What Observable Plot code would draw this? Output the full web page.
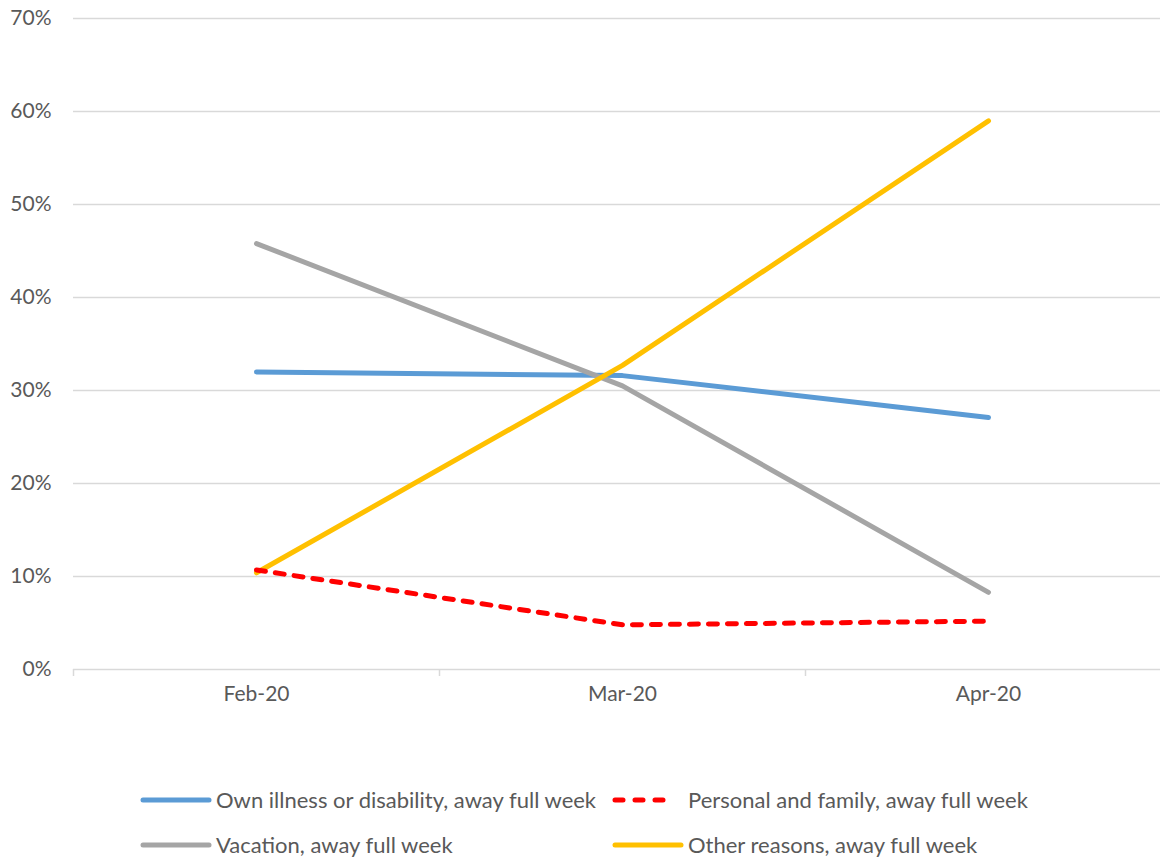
<!DOCTYPE html>
<html>
<head>
<meta charset="utf-8">
<script src="https://cdn.jsdelivr.net/npm/d3@7"></script>
<script src="https://cdn.jsdelivr.net/npm/@observablehq/plot@0.6"></script>
<style>
  body { margin: 0; background: #fff; font-family: Lato, "Open Sans", sans-serif; }
  #wrap { position: relative; width: 1160px; height: 857px; overflow: hidden; }
  #legend { position: absolute; left: 140px; top: 786px; width: 1000px; font-size: 22px; color: #595959; }
  .item { position: absolute; display: flex; align-items: center; white-space: nowrap; }
  .item svg { margin-right: 4px; }
</style>
</head>
<body>
<div id="wrap">
  <div id="chart"></div>
  <div id="legend"></div>
</div>
<script>
const months = ["Feb-20", "Mar-20", "Apr-20"];
const seriesNames = [
  "Own illness or disability, away full week",
  "Personal and family, away full week",
  "Vacation, away full week",
  "Other reasons, away full week"
];
const ownIllness = [0.320, 0.316, 0.271];
const personalFamily = [0.107, 0.048, 0.052];
const vacation = [0.458, 0.305, 0.083];
const otherReasons = [0.104, 0.327, 0.590];
const yTicks = [0, 0.1, 0.2, 0.3, 0.4, 0.5, 0.6, 0.7];
const colors = ["#5B9BD5", "#FF0000", "#A5A5A5", "#FFC000"];

const allValues = [ownIllness, personalFamily, vacation, otherReasons];
const rows = [];
allValues.forEach((vals, s) => vals.forEach((v, i) => rows.push({series: seriesNames[s], i, value: v})));

const lineFor = (name, extra = {}) => Plot.line(rows.filter(d => d.series === name), {
  x: "i", y: "value", stroke: colors[seriesNames.indexOf(name)], strokeWidth: 5, ...extra
});

const chart = Plot.plot({
  width: 1160,
  height: 720,
  marginTop: 18,
  marginBottom: 51,
  marginLeft: 73,
  marginRight: 0,
  style: { fontFamily: "Lato, 'Open Sans', sans-serif", fontSize: "21px", color: "#595959", background: "#fff" },
  x: { type: "linear", domain: [-0.5, 2.5], range: [73, 1171], label: null },
  y: { domain: [0, 0.7], range: [669, 18], label: null },
  marks: [
    Plot.ruleY(yTicks.slice(1), { stroke: "#d9d9d9", strokeWidth: 1.3, strokeOpacity: 1 }),
    Plot.ruleY([0], { stroke: "#d9d9d9", strokeWidth: 1.5, strokeOpacity: 1 }),
    Plot.axisY({ ticks: yTicks, tickFormat: d => Math.round(d * 100) + "%", tickSize: 0, tickPadding: 22, fill: "#595959", fontSize: 21, label: null }),
    Plot.axisX({ ticks: [-0.5, 0.5, 1.5], tickFormat: () => "", tickSize: 7, stroke: "#d9d9d9", strokeWidth: 1.5, label: null }),
    Plot.axisX({ ticks: [0, 1, 2], tickFormat: i => months[i], tickSize: 0, tickPadding: 17, fill: "#595959", fontSize: 21, label: null }),
    lineFor(seriesNames[0]),
    lineFor(seriesNames[2]),
    lineFor(seriesNames[3]),
    lineFor(seriesNames[1], { strokeDasharray: "9,10", strokeLinecap: "round" })
  ]
});
document.getElementById("chart").appendChild(chart);

// legend
const legend = document.getElementById("legend");
const pos = [[0, 0], [472, 0], [0, 45], [472, 45]];
seriesNames.forEach((name, s) => {
  const item = document.createElement("div");
  item.className = "item";
  item.style.left = pos[s][0] + "px";
  item.style.top = pos[s][1] + "px";
  const dashed = s === 1;
  const w = dashed ? 64 : 72;
  item.innerHTML = `<svg width="${w}" height="12"><line x1="3" y1="6" x2="${w - 3}" y2="6" stroke="${colors[s]}" stroke-width="5" stroke-linecap="round" ${dashed ? 'stroke-dasharray="8,12"' : ""}/></svg>` +
    `<span style="${dashed ? "margin-left:8px" : ""}">${name}</span>`;
  legend.appendChild(item);
});
</script>
</body>
</html>
